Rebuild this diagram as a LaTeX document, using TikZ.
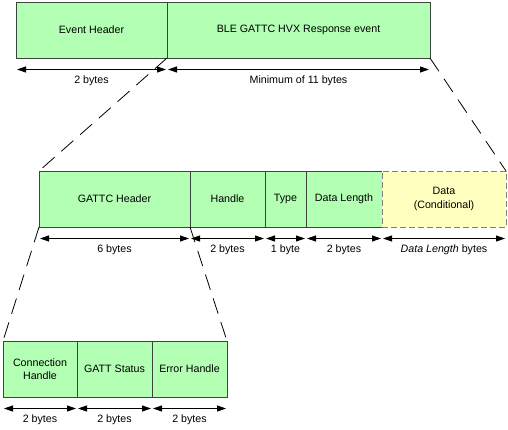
\documentclass[tikz,border=0pt]{standalone}
\usepackage{fontspec}
\setmainfont{Liberation Sans}
\usepackage{tikz}
\usetikzlibrary{positioning, arrows.meta}

\definecolor{fieldgreen}{RGB}{179,255,179}
\definecolor{fieldyellow}{RGB}{255,255,192}
\definecolor{fieldborder}{RGB}{60,70,60}

\tikzset{
	field/.style={draw=fieldborder, fill=fieldgreen, line width=1pt, minimum height=56pt,
		inner sep=0pt, outer sep=0pt, anchor=north west, align=center,
		font=\fontsize{10.67}{13.5}\selectfont},
	optfield/.style={field, fill=fieldyellow, draw=gray, dash pattern=on 6pt off 3pt},
	dim/.style={{Triangle[length=9pt,width=6pt]}-{Triangle[length=9pt,width=6pt]},
		line width=0.9pt, shorten <=1pt, shorten >=1pt},
	dimlabel/.style={anchor=base, yshift=-13.5pt, inner sep=0pt,
		font=\fontsize{10.67}{13.5}\selectfont},
	zoomline/.style={line width=0.8pt, dash pattern=on 16pt off 9pt}
}

\begin{document}
\begin{tikzpicture}[x=1pt, y=-1pt]
	\useasboundingbox (0,0) rectangle (508,429);
	\node[field, minimum width=151pt] (eh) at (16, 2) {Event Header};
	\node[field, minimum width=263pt, right=0pt of eh] (ble) {BLE GATTC HVX Response event};
	\node[field, minimum width=151pt] (gattc) at (39, 171) {GATTC Header};
	\node[field, minimum width=75pt, right=0pt of gattc] (hdl) {Handle};
	\node[field, minimum width=41pt, right=0pt of hdl] (typ) {Type};
	\node[field, minimum width=76pt, right=0pt of typ] (dlen) {Data Length};
	\node[optfield, minimum width=124pt, right=0pt of dlen] (data) {Data\\(Conditional)};
	\node[field, minimum width=74pt] (conn) at (3, 341) {Connection\\Handle};
	\node[field, minimum width=75pt, right=0pt of conn] (gstat) {GATT Status};
	\node[field, minimum width=75pt, right=0pt of gstat] (errh) {Error Handle};
	\draw[zoomline] (eh.south east) -- (gattc.north west)
	       (ble.south east) -- (data.north east)
	       (gattc.south west) -- (conn.north west)
	       (gattc.south east) -- (errh.north east);
	\foreach \f/\txt in {eh/2 bytes, ble/Minimum of 11 bytes, gattc/6 bytes, hdl/2 bytes,
		typ/1 byte, dlen/2 bytes, data/\textit{Data Length} bytes,
		conn/2 bytes, gstat/2 bytes, errh/2 bytes}
		\draw[dim] ([yshift=-11.5pt]\f.south west) -- node[dimlabel] {\txt} ([yshift=-11.5pt]\f.south east);
\end{tikzpicture}
\end{document}
